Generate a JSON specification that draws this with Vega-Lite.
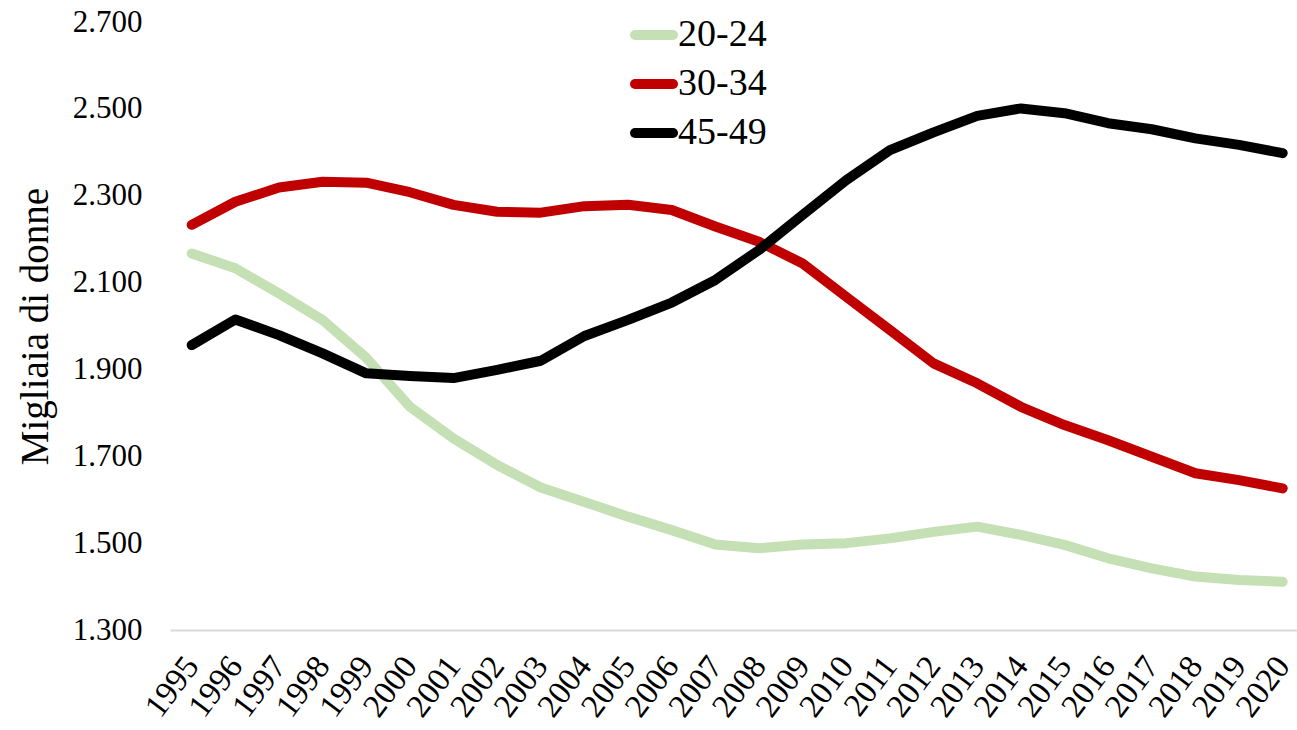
{
  "$schema": "https://vega.github.io/schema/vega-lite/v6.json",
  "width": 1127,
  "height": 608,
  "autosize": {"type": "none"},
  "padding": {"left": 170, "top": 22, "right": 0, "bottom": 100},
  "background": "white",
  "config": {
    "view": {"stroke": null},
    "font": "Liberation Serif",
    "legend": {"labelFont": "Liberation Serif", "labelFontSize": 38, "labelColor": "black"}
  },
  "data": {"values": [
    {"anno": 1995, "fascia": "20-24", "valore": 2167},
    {"anno": 1996, "fascia": "20-24", "valore": 2133},
    {"anno": 1997, "fascia": "20-24", "valore": 2075},
    {"anno": 1998, "fascia": "20-24", "valore": 2014},
    {"anno": 1999, "fascia": "20-24", "valore": 1927},
    {"anno": 2000, "fascia": "20-24", "valore": 1814},
    {"anno": 2001, "fascia": "20-24", "valore": 1741},
    {"anno": 2002, "fascia": "20-24", "valore": 1680},
    {"anno": 2003, "fascia": "20-24", "valore": 1628},
    {"anno": 2004, "fascia": "20-24", "valore": 1595},
    {"anno": 2005, "fascia": "20-24", "valore": 1561},
    {"anno": 2006, "fascia": "20-24", "valore": 1530},
    {"anno": 2007, "fascia": "20-24", "valore": 1497},
    {"anno": 2008, "fascia": "20-24", "valore": 1488},
    {"anno": 2009, "fascia": "20-24", "valore": 1497},
    {"anno": 2010, "fascia": "20-24", "valore": 1500},
    {"anno": 2011, "fascia": "20-24", "valore": 1511},
    {"anno": 2012, "fascia": "20-24", "valore": 1526},
    {"anno": 2013, "fascia": "20-24", "valore": 1538},
    {"anno": 2014, "fascia": "20-24", "valore": 1519},
    {"anno": 2015, "fascia": "20-24", "valore": 1496},
    {"anno": 2016, "fascia": "20-24", "valore": 1465},
    {"anno": 2017, "fascia": "20-24", "valore": 1442},
    {"anno": 2018, "fascia": "20-24", "valore": 1423},
    {"anno": 2019, "fascia": "20-24", "valore": 1415},
    {"anno": 2020, "fascia": "20-24", "valore": 1411},
    {"anno": 1995, "fascia": "30-34", "valore": 2233},
    {"anno": 1996, "fascia": "30-34", "valore": 2286},
    {"anno": 1997, "fascia": "30-34", "valore": 2319},
    {"anno": 1998, "fascia": "30-34", "valore": 2332},
    {"anno": 1999, "fascia": "30-34", "valore": 2330},
    {"anno": 2000, "fascia": "30-34", "valore": 2308},
    {"anno": 2001, "fascia": "30-34", "valore": 2279},
    {"anno": 2002, "fascia": "30-34", "valore": 2263},
    {"anno": 2003, "fascia": "30-34", "valore": 2261},
    {"anno": 2004, "fascia": "30-34", "valore": 2276},
    {"anno": 2005, "fascia": "30-34", "valore": 2279},
    {"anno": 2006, "fascia": "30-34", "valore": 2267},
    {"anno": 2007, "fascia": "30-34", "valore": 2229},
    {"anno": 2008, "fascia": "30-34", "valore": 2194},
    {"anno": 2009, "fascia": "30-34", "valore": 2144},
    {"anno": 2010, "fascia": "30-34", "valore": 2067},
    {"anno": 2011, "fascia": "30-34", "valore": 1991},
    {"anno": 2012, "fascia": "30-34", "valore": 1914},
    {"anno": 2013, "fascia": "30-34", "valore": 1868},
    {"anno": 2014, "fascia": "30-34", "valore": 1814},
    {"anno": 2015, "fascia": "30-34", "valore": 1772},
    {"anno": 2016, "fascia": "30-34", "valore": 1737},
    {"anno": 2017, "fascia": "30-34", "valore": 1699},
    {"anno": 2018, "fascia": "30-34", "valore": 1661},
    {"anno": 2019, "fascia": "30-34", "valore": 1645},
    {"anno": 2020, "fascia": "30-34", "valore": 1626},
    {"anno": 1995, "fascia": "45-49", "valore": 1956},
    {"anno": 1996, "fascia": "45-49", "valore": 2015},
    {"anno": 1997, "fascia": "45-49", "valore": 1979},
    {"anno": 1998, "fascia": "45-49", "valore": 1937},
    {"anno": 1999, "fascia": "45-49", "valore": 1891},
    {"anno": 2000, "fascia": "45-49", "valore": 1885},
    {"anno": 2001, "fascia": "45-49", "valore": 1880},
    {"anno": 2002, "fascia": "45-49", "valore": 1899},
    {"anno": 2003, "fascia": "45-49", "valore": 1920},
    {"anno": 2004, "fascia": "45-49", "valore": 1977},
    {"anno": 2005, "fascia": "45-49", "valore": 2014},
    {"anno": 2006, "fascia": "45-49", "valore": 2054},
    {"anno": 2007, "fascia": "45-49", "valore": 2106},
    {"anno": 2008, "fascia": "45-49", "valore": 2175},
    {"anno": 2009, "fascia": "45-49", "valore": 2256},
    {"anno": 2010, "fascia": "45-49", "valore": 2336},
    {"anno": 2011, "fascia": "45-49", "valore": 2405},
    {"anno": 2012, "fascia": "45-49", "valore": 2446},
    {"anno": 2013, "fascia": "45-49", "valore": 2484},
    {"anno": 2014, "fascia": "45-49", "valore": 2501},
    {"anno": 2015, "fascia": "45-49", "valore": 2490},
    {"anno": 2016, "fascia": "45-49", "valore": 2467},
    {"anno": 2017, "fascia": "45-49", "valore": 2453},
    {"anno": 2018, "fascia": "45-49", "valore": 2432},
    {"anno": 2019, "fascia": "45-49", "valore": 2417},
    {"anno": 2020, "fascia": "45-49", "valore": 2398}
  ]},
  "mark": {"type": "line", "strokeWidth": 10, "strokeCap": "round", "strokeJoin": "round"},
  "encoding": {
    "x": {
      "field": "anno", "type": "quantitative",
      "scale": {"domain": [1994.503, 2020.328], "nice": false, "zero": false},
      "axis": {
        "values": [1995,1996,1997,1998,1999,2000,2001,2002,2003,2004,2005,2006,2007,2008,2009,2010,2011,2012,2013,2014,2015,2016,2017,2018,2019,2020],
        "format": "d", "labelAngle": -53, "labelFontSize": 33, "labelFont": "Liberation Serif",
        "labelColor": "black", "ticks": false, "grid": false, "domainColor": "#d9d9d9", "domainWidth": 2,
        "title": null, "labelPadding": 30, "labelFlush": false, "labelOverlap": false,
        "labelAlign": "right", "labelBaseline": "middle"
      }
    },
    "y": {
      "field": "valore", "type": "quantitative",
      "scale": {"domain": [1300, 2700], "nice": false, "zero": false},
      "axis": {
        "values": [1300, 1500, 1700, 1900, 2100, 2300, 2500, 2700],
        "labelExpr": "replace(format(datum.value, ','), ',', '.')",
        "labelFontSize": 31, "labelFont": "Liberation Serif", "labelColor": "black",
        "ticks": false, "grid": false, "domain": false, "labelPadding": 28,
        "title": "Migliaia di donne", "titleFontSize": 39, "titleFont": "Liberation Serif",
        "titleFontWeight": "normal", "titleColor": "black", "titlePadding": 17
      }
    },
    "color": {
      "field": "fascia", "type": "nominal",
      "scale": {"domain": ["20-24", "30-34", "45-49"], "range": ["#c5e0b4", "#c00000", "#000000"]},
      "legend": {
        "orient": "none", "legendX": 460, "legendY": -11, "title": null,
        "symbolType": "stroke", "symbolSize": 1444, "symbolStrokeWidth": 10,
        "labelFontSize": 38, "labelFont": "Liberation Serif", "labelColor": "black",
        "labelOffset": 0, "rowPadding": 5,
        "encode": {
          "symbols": {"update": {"strokeCap": {"value": "round"}}}
        }
      }
    }
  }
}
